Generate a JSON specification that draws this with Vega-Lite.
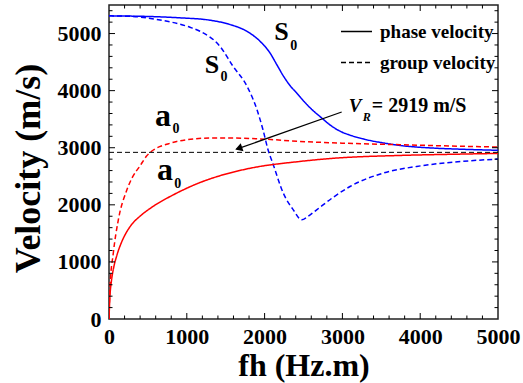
{
  "$schema": "https://vega.github.io/schema/vega-lite/v6.json",
  "width": 389,
  "height": 314,
  "autosize": {"type": "none"},
  "padding": {"left": 109, "top": 5, "right": 25, "bottom": 64},
  "background": "white",
  "config": {
    "view": {"stroke": "#222", "strokeWidth": 1.5},
    "axis": {
      "domain": false,
      "grid": false,
      "ticks": false,
      "labelFont": "Liberation Serif",
      "labelFontWeight": "bold",
      "labelFontSize": 22,
      "labelColor": "black",
      "titleFont": "Liberation Serif",
      "titleFontWeight": "bold",
      "titleColor": "black",
      "labelFlush": false,
      "labelOverlap": false
    },
    "legend": {
      "orient": "none",
      "legendX": 231,
      "legendY": 10,
      "symbolType": "stroke",
      "symbolStrokeColor": "black",
      "symbolSize": 961,
      "symbolStrokeWidth": 1.3,
      "labelFont": "Liberation Serif",
      "labelFontWeight": "bold",
      "labelFontSize": 19,
      "labelColor": "black",
      "labelOffset": 7,
      "rowPadding": 4,
      "labelLimit": 300,
      "padding": 0
    }
  },
  "resolve": {"axis": {"x": "independent", "y": "independent"}},
  "layer": [
    {
      "data": {"values": [
        {"mode": "S0", "type": "phase velocity", "fh": 0, "v": 5310},
        {"mode": "S0", "type": "phase velocity", "fh": 300, "v": 5305},
        {"mode": "S0", "type": "phase velocity", "fh": 600, "v": 5295},
        {"mode": "S0", "type": "phase velocity", "fh": 912, "v": 5275},
        {"mode": "S0", "type": "phase velocity", "fh": 1298, "v": 5234},
        {"mode": "S0", "type": "phase velocity", "fh": 1555, "v": 5158},
        {"mode": "S0", "type": "phase velocity", "fh": 1770, "v": 5041},
        {"mode": "S0", "type": "phase velocity", "fh": 1941, "v": 4865},
        {"mode": "S0", "type": "phase velocity", "fh": 2069, "v": 4661},
        {"mode": "S0", "type": "phase velocity", "fh": 2155, "v": 4460},
        {"mode": "S0", "type": "phase velocity", "fh": 2240, "v": 4260},
        {"mode": "S0", "type": "phase velocity", "fh": 2326, "v": 4090},
        {"mode": "S0", "type": "phase velocity", "fh": 2412, "v": 3960},
        {"mode": "S0", "type": "phase velocity", "fh": 2500, "v": 3820},
        {"mode": "S0", "type": "phase velocity", "fh": 2600, "v": 3680},
        {"mode": "S0", "type": "phase velocity", "fh": 2734, "v": 3521},
        {"mode": "S0", "type": "phase velocity", "fh": 2850, "v": 3390},
        {"mode": "S0", "type": "phase velocity", "fh": 2969, "v": 3290},
        {"mode": "S0", "type": "phase velocity", "fh": 3100, "v": 3220},
        {"mode": "S0", "type": "phase velocity", "fh": 3312, "v": 3140},
        {"mode": "S0", "type": "phase velocity", "fh": 3520, "v": 3085},
        {"mode": "S0", "type": "phase velocity", "fh": 3740, "v": 3040},
        {"mode": "S0", "type": "phase velocity", "fh": 4165, "v": 2994},
        {"mode": "S0", "type": "phase velocity", "fh": 4500, "v": 2975},
        {"mode": "S0", "type": "phase velocity", "fh": 5000, "v": 2955},

        {"mode": "S0", "type": "group velocity", "fh": 0, "v": 5310},
        {"mode": "S0", "type": "group velocity", "fh": 300, "v": 5300},
        {"mode": "S0", "type": "group velocity", "fh": 600, "v": 5250},
        {"mode": "S0", "type": "group velocity", "fh": 1040, "v": 5110},
        {"mode": "S0", "type": "group velocity", "fh": 1169, "v": 5040},
        {"mode": "S0", "type": "group velocity", "fh": 1426, "v": 4777},
        {"mode": "S0", "type": "group velocity", "fh": 1594, "v": 4427},
        {"mode": "S0", "type": "group velocity", "fh": 1774, "v": 4076},
        {"mode": "S0", "type": "group velocity", "fh": 1902, "v": 3667},
        {"mode": "S0", "type": "group velocity", "fh": 1979, "v": 3316},
        {"mode": "S0", "type": "group velocity", "fh": 2044, "v": 2965},
        {"mode": "S0", "type": "group velocity", "fh": 2112, "v": 2700},
        {"mode": "S0", "type": "group velocity", "fh": 2240, "v": 2205},
        {"mode": "S0", "type": "group velocity", "fh": 2369, "v": 1912},
        {"mode": "S0", "type": "group velocity", "fh": 2477, "v": 1737},
        {"mode": "S0", "type": "group velocity", "fh": 2560, "v": 1800},
        {"mode": "S0", "type": "group velocity", "fh": 2669, "v": 1912},
        {"mode": "S0", "type": "group velocity", "fh": 2880, "v": 2130},
        {"mode": "S0", "type": "group velocity", "fh": 3098, "v": 2321},
        {"mode": "S0", "type": "group velocity", "fh": 3526, "v": 2556},
        {"mode": "S0", "type": "group velocity", "fh": 3955, "v": 2672},
        {"mode": "S0", "type": "group velocity", "fh": 4383, "v": 2742},
        {"mode": "S0", "type": "group velocity", "fh": 5000, "v": 2801},

        {"mode": "a0", "type": "phase velocity", "fh": 0, "v": 0},
        {"mode": "a0", "type": "phase velocity", "fh": 10, "v": 350},
        {"mode": "a0", "type": "phase velocity", "fh": 30, "v": 650},
        {"mode": "a0", "type": "phase velocity", "fh": 60, "v": 900},
        {"mode": "a0", "type": "phase velocity", "fh": 100, "v": 1110},
        {"mode": "a0", "type": "phase velocity", "fh": 160, "v": 1340},
        {"mode": "a0", "type": "phase velocity", "fh": 227, "v": 1525},
        {"mode": "a0", "type": "phase velocity", "fh": 300, "v": 1670},
        {"mode": "a0", "type": "phase velocity", "fh": 398, "v": 1800},
        {"mode": "a0", "type": "phase velocity", "fh": 570, "v": 1975},
        {"mode": "a0", "type": "phase velocity", "fh": 827, "v": 2175},
        {"mode": "a0", "type": "phase velocity", "fh": 1170, "v": 2390},
        {"mode": "a0", "type": "phase velocity", "fh": 1427, "v": 2510},
        {"mode": "a0", "type": "phase velocity", "fh": 1812, "v": 2640},
        {"mode": "a0", "type": "phase velocity", "fh": 2455, "v": 2760},
        {"mode": "a0", "type": "phase velocity", "fh": 2883, "v": 2815},
        {"mode": "a0", "type": "phase velocity", "fh": 3740, "v": 2865},
        {"mode": "a0", "type": "phase velocity", "fh": 4400, "v": 2885},
        {"mode": "a0", "type": "phase velocity", "fh": 5000, "v": 2900},

        {"mode": "a0", "type": "group velocity", "fh": 0, "v": 0},
        {"mode": "a0", "type": "group velocity", "fh": 13, "v": 567},
        {"mode": "a0", "type": "group velocity", "fh": 55, "v": 1152},
        {"mode": "a0", "type": "group velocity", "fh": 120, "v": 1737},
        {"mode": "a0", "type": "group velocity", "fh": 227, "v": 2250},
        {"mode": "a0", "type": "group velocity", "fh": 300, "v": 2480},
        {"mode": "a0", "type": "group velocity", "fh": 398, "v": 2680},
        {"mode": "a0", "type": "group velocity", "fh": 480, "v": 2850},
        {"mode": "a0", "type": "group velocity", "fh": 570, "v": 2960},
        {"mode": "a0", "type": "group velocity", "fh": 650, "v": 3020},
        {"mode": "a0", "type": "group velocity", "fh": 741, "v": 3060},
        {"mode": "a0", "type": "group velocity", "fh": 870, "v": 3110},
        {"mode": "a0", "type": "group velocity", "fh": 998, "v": 3140},
        {"mode": "a0", "type": "group velocity", "fh": 1300, "v": 3170},
        {"mode": "a0", "type": "group velocity", "fh": 1600, "v": 3170},
        {"mode": "a0", "type": "group velocity", "fh": 2000, "v": 3150},
        {"mode": "a0", "type": "group velocity", "fh": 2455, "v": 3111},
        {"mode": "a0", "type": "group velocity", "fh": 3000, "v": 3080},
        {"mode": "a0", "type": "group velocity", "fh": 3740, "v": 3053},
        {"mode": "a0", "type": "group velocity", "fh": 4400, "v": 3030},
        {"mode": "a0", "type": "group velocity", "fh": 5000, "v": 3012}
      ]},
      "mark": {"type": "line", "strokeWidth": 1.5, "interpolate": "monotone", "clip": true},
      "encoding": {
        "x": {"field": "fh", "type": "quantitative", "scale": {"domain": [0, 5000], "nice": false},
          "axis": {"orient": "bottom", "values": [0, 1000, 2000, 3000, 4000, 5000], "format": "d", "labelPadding": 7,
            "title": "fh (Hz.m)", "titleFontSize": 32, "titleY": 56, "titleBaseline": "alphabetic", "titleAlign": "center", "titleX": 194.5}},
        "y": {"field": "v", "type": "quantitative", "scale": {"domain": [0, 5500], "nice": false},
          "axis": {"orient": "left", "values": [0, 1000, 2000, 3000, 4000, 5000], "format": "d", "labelPadding": 8,
            "title": "Velocity (m/s)", "titleFontSize": 36, "titleX": -70, "titleY": 163, "titleAngle": -90, "titleBaseline": "alphabetic", "titleAlign": "center"}},
        "color": {"field": "mode", "type": "nominal", "scale": {"domain": ["S0", "a0"], "range": ["#0000ff", "#ff0000"]}, "legend": null},
        "strokeDash": {"field": "type", "type": "nominal", "scale": {"domain": ["phase velocity", "group velocity"], "range": [[1, 0], [5, 3]]}, "legend": {"title": null}}
      }
    },
    {
      "data": {"values": [{"fh": 0, "v": 2919}, {"fh": 5000, "v": 2919}]},
      "mark": {"type": "line", "color": "black", "strokeWidth": 1, "strokeDash": [5, 3]},
      "encoding": {
        "x": {"field": "fh", "type": "quantitative", "axis": null},
        "y": {"field": "v", "type": "quantitative", "axis": null}
      }
    },
    {
      "data": {"values": [{"pos": 1000}, {"pos": 2000}, {"pos": 3000}, {"pos": 4000}]},
      "mark": {"type": "tick", "color": "black", "orient": "vertical", "size": 6, "thickness": 1, "opacity": 1, "yOffset": -3},
      "encoding": {
        "x": {"field": "pos", "type": "quantitative", "axis": null},
        "y": {"datum": 0, "type": "quantitative", "axis": null}
      }
    },
    {
      "data": {"values": [{"pos": 1000}, {"pos": 2000}, {"pos": 3000}, {"pos": 4000}]},
      "mark": {"type": "tick", "color": "black", "orient": "vertical", "size": 6, "thickness": 1, "opacity": 1, "yOffset": 3},
      "encoding": {
        "x": {"field": "pos", "type": "quantitative", "axis": null},
        "y": {"datum": 5500, "type": "quantitative", "axis": null}
      }
    },
    {
      "data": {"values": [{"pos": 200}, {"pos": 400}, {"pos": 600}, {"pos": 800}, {"pos": 1200}, {"pos": 1400}, {"pos": 1600}, {"pos": 1800}, {"pos": 2200}, {"pos": 2400}, {"pos": 2600}, {"pos": 2800}, {"pos": 3200}, {"pos": 3400}, {"pos": 3600}, {"pos": 3800}, {"pos": 4200}, {"pos": 4400}, {"pos": 4600}, {"pos": 4800}]},
      "mark": {"type": "tick", "color": "black", "orient": "vertical", "size": 3.5, "thickness": 1, "opacity": 1, "yOffset": -1.75},
      "encoding": {
        "x": {"field": "pos", "type": "quantitative", "axis": null},
        "y": {"datum": 0, "type": "quantitative", "axis": null}
      }
    },
    {
      "data": {"values": [{"pos": 200}, {"pos": 400}, {"pos": 600}, {"pos": 800}, {"pos": 1200}, {"pos": 1400}, {"pos": 1600}, {"pos": 1800}, {"pos": 2200}, {"pos": 2400}, {"pos": 2600}, {"pos": 2800}, {"pos": 3200}, {"pos": 3400}, {"pos": 3600}, {"pos": 3800}, {"pos": 4200}, {"pos": 4400}, {"pos": 4600}, {"pos": 4800}]},
      "mark": {"type": "tick", "color": "black", "orient": "vertical", "size": 3.5, "thickness": 1, "opacity": 1, "yOffset": 1.75},
      "encoding": {
        "x": {"field": "pos", "type": "quantitative", "axis": null},
        "y": {"datum": 5500, "type": "quantitative", "axis": null}
      }
    },
    {
      "data": {"values": [{"pos": 1000}, {"pos": 2000}, {"pos": 3000}, {"pos": 4000}, {"pos": 5000}]},
      "mark": {"type": "tick", "color": "black", "orient": "horizontal", "size": 6, "thickness": 1, "opacity": 1, "xOffset": 3},
      "encoding": {
        "y": {"field": "pos", "type": "quantitative", "axis": null},
        "x": {"datum": 0, "type": "quantitative", "axis": null}
      }
    },
    {
      "data": {"values": [{"pos": 1000}, {"pos": 2000}, {"pos": 3000}, {"pos": 4000}, {"pos": 5000}]},
      "mark": {"type": "tick", "color": "black", "orient": "horizontal", "size": 6, "thickness": 1, "opacity": 1, "xOffset": -3},
      "encoding": {
        "y": {"field": "pos", "type": "quantitative", "axis": null},
        "x": {"datum": 5000, "type": "quantitative", "axis": null}
      }
    },
    {
      "data": {"values": [{"pos": 200}, {"pos": 400}, {"pos": 600}, {"pos": 800}, {"pos": 1200}, {"pos": 1400}, {"pos": 1600}, {"pos": 1800}, {"pos": 2200}, {"pos": 2400}, {"pos": 2600}, {"pos": 2800}, {"pos": 3200}, {"pos": 3400}, {"pos": 3600}, {"pos": 3800}, {"pos": 4200}, {"pos": 4400}, {"pos": 4600}, {"pos": 4800}, {"pos": 5200}, {"pos": 5400}]},
      "mark": {"type": "tick", "color": "black", "orient": "horizontal", "size": 3.5, "thickness": 1, "opacity": 1, "xOffset": 1.75},
      "encoding": {
        "y": {"field": "pos", "type": "quantitative", "axis": null},
        "x": {"datum": 0, "type": "quantitative", "axis": null}
      }
    },
    {
      "data": {"values": [{"pos": 200}, {"pos": 400}, {"pos": 600}, {"pos": 800}, {"pos": 1200}, {"pos": 1400}, {"pos": 1600}, {"pos": 1800}, {"pos": 2200}, {"pos": 2400}, {"pos": 2600}, {"pos": 2800}, {"pos": 3200}, {"pos": 3400}, {"pos": 3600}, {"pos": 3800}, {"pos": 4200}, {"pos": 4400}, {"pos": 4600}, {"pos": 4800}, {"pos": 5200}, {"pos": 5400}]},
      "mark": {"type": "tick", "color": "black", "orient": "horizontal", "size": 3.5, "thickness": 1, "opacity": 1, "xOffset": -1.75},
      "encoding": {
        "y": {"field": "pos", "type": "quantitative", "axis": null},
        "x": {"datum": 5000, "type": "quantitative", "axis": null}
      }
    },
    {
      "data": {"values": [{"fh": 2991, "v": 3626, "fh2": 1640, "v2": 2975}]},
      "mark": {"type": "rule", "color": "black", "strokeWidth": 1.2},
      "encoding": {
        "x": {"field": "fh", "type": "quantitative", "axis": null},
        "y": {"field": "v", "type": "quantitative", "axis": null},
        "x2": {"field": "fh2"},
        "y2": {"field": "v2"}
      }
    },
    {
      "data": {"values": [{"fh": 1667, "v": 2988}]},
      "mark": {"type": "point", "shape": "triangle-left", "filled": true, "color": "black", "opacity": 1, "size": 70, "angle": 340.5},
      "encoding": {
        "x": {"field": "fh", "type": "quantitative", "axis": null},
        "y": {"field": "v", "type": "quantitative", "axis": null}
      }
    },
    {
      "data": {"values": [
        {"fh": 2217, "v": 4895, "t": "S"},
        {"fh": 1324, "v": 4310, "t": "S"}
      ]},
      "mark": {"type": "text", "font": "Liberation Serif", "fontWeight": "bold", "fontSize": 26, "align": "center", "baseline": "alphabetic", "color": "black"},
      "encoding": {
        "x": {"field": "fh", "type": "quantitative", "axis": null},
        "y": {"field": "v", "type": "quantitative", "axis": null},
        "text": {"field": "t"}
      }
    },
    {
      "data": {"values": [
        {"fh": 694, "v": 3374, "t": "a"},
        {"fh": 720, "v": 2439, "t": "a"}
      ]},
      "mark": {"type": "text", "font": "Liberation Serif", "fontWeight": "bold", "fontSize": 32, "align": "center", "baseline": "alphabetic", "color": "black"},
      "encoding": {
        "x": {"field": "fh", "type": "quantitative", "axis": null},
        "y": {"field": "v", "type": "quantitative", "axis": null},
        "text": {"field": "t"}
      }
    },
    {
      "data": {"values": [
        {"fh": 2375, "v": 4719, "t": "0"},
        {"fh": 1478, "v": 4163, "t": "0"},
        {"fh": 860, "v": 3258, "t": "0"},
        {"fh": 885, "v": 2293, "t": "0"}
      ]},
      "mark": {"type": "text", "font": "Liberation Serif", "fontWeight": "bold", "fontSize": 14, "align": "center", "baseline": "alphabetic", "color": "black"},
      "encoding": {
        "x": {"field": "fh", "type": "quantitative", "axis": null},
        "y": {"field": "v", "type": "quantitative", "axis": null},
        "text": {"field": "t"}
      }
    },
    {
      "data": {"values": [{"fh": 3162, "v": 3626, "t": "V"}]},
      "mark": {"type": "text", "font": "Liberation Serif", "fontWeight": "bold", "fontStyle": "italic", "fontSize": 19, "align": "center", "baseline": "alphabetic", "color": "black"},
      "encoding": {
        "x": {"field": "fh", "type": "quantitative", "axis": null},
        "y": {"field": "v", "type": "quantitative", "axis": null},
        "text": {"field": "t"}
      }
    },
    {
      "data": {"values": [{"fh": 3312, "v": 3461, "t": "R"}]},
      "mark": {"type": "text", "font": "Liberation Serif", "fontWeight": "bold", "fontStyle": "italic", "fontSize": 12, "align": "center", "baseline": "alphabetic", "color": "black"},
      "encoding": {
        "x": {"field": "fh", "type": "quantitative", "axis": null},
        "y": {"field": "v", "type": "quantitative", "axis": null},
        "text": {"field": "t"}
      }
    },
    {
      "data": {"values": [{"fh": 3377, "v": 3626, "t": "= 2919 m/S"}]},
      "mark": {"type": "text", "font": "Liberation Serif", "fontWeight": "bold", "fontSize": 20, "align": "left", "baseline": "alphabetic", "color": "black"},
      "encoding": {
        "x": {"field": "fh", "type": "quantitative", "axis": null},
        "y": {"field": "v", "type": "quantitative", "axis": null},
        "text": {"field": "t"}
      }
    }
  ]
}
